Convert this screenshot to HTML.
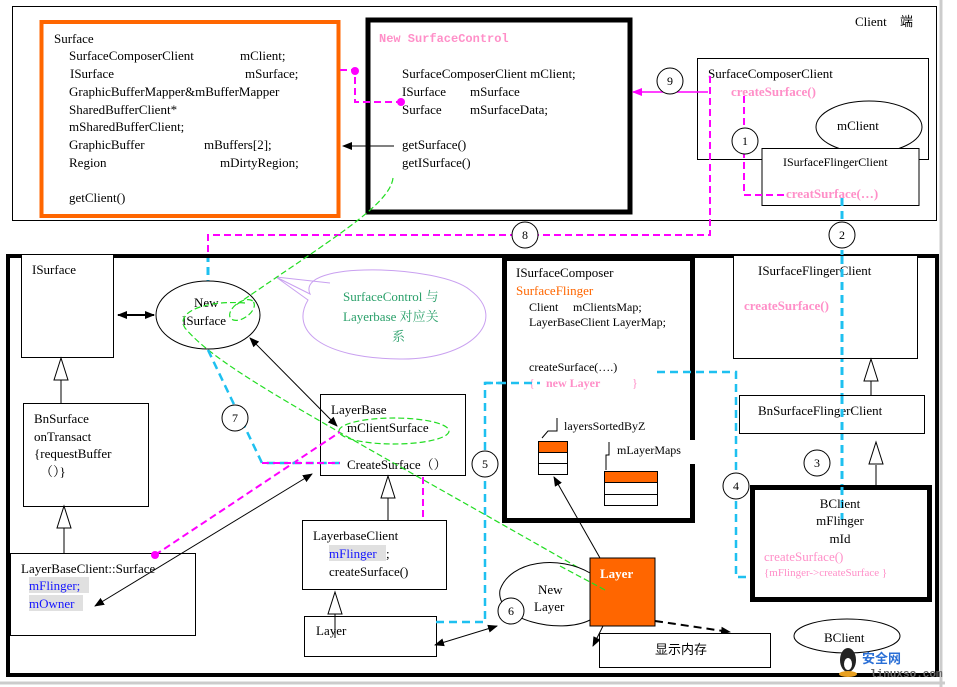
<!DOCTYPE html>
<html><head><meta charset="utf-8"><style>
html,body{margin:0;padding:0;background:#fff;}
svg{display:block;}
text{font-family:"Liberation Serif","Noto Serif CJK SC",serif;font-size:13px;fill:#000;}
.pk{fill:#ff8fc8;font-weight:bold;}
.bl{fill:#1515ff;}
.n{font-size:12px;text-anchor:middle;}
</style></head><body>
<svg width="957" height="687" viewBox="0 0 957 687" xmlns="http://www.w3.org/2000/svg">
<defs>
<marker id="ah" markerWidth="10" markerHeight="10" refX="9" refY="5" orient="auto" markerUnits="userSpaceOnUse"><path d="M0,1 L10,5 L0,9 z" fill="#000"/></marker>
<marker id="ahs" markerWidth="10" markerHeight="10" refX="1" refY="5" orient="auto" markerUnits="userSpaceOnUse"><path d="M10,1 L0,5 L10,9 z" fill="#000"/></marker>
<marker id="ahm" markerWidth="10" markerHeight="10" refX="9" refY="5" orient="auto" markerUnits="userSpaceOnUse"><path d="M0,1 L10,5 L0,9 z" fill="#f0f"/></marker>
</defs>
<rect x="0" y="0" width="957" height="687" fill="#fff"/>
<line x1="941" y1="0" x2="941" y2="687" stroke="#ccc" stroke-width="3"/>
<line x1="0" y1="683" x2="945" y2="683" stroke="#ccc" stroke-width="3"/>

<!-- top client box -->
<rect x="12.5" y="6.5" width="924" height="214" fill="none" stroke="#000" stroke-width="1"/>
<text x="855" y="26">Client</text><text x="900" y="26" style="font-family:'Noto Sans CJK SC',sans-serif">端</text>

<rect x="41.5" y="22" width="297" height="194" fill="#fff" stroke="#ff6600" stroke-width="4"/>
<text x="54" y="43">Surface</text>
<text x="69" y="60">SurfaceComposerClient</text><text x="240" y="60">mClient;</text>
<text x="70" y="78">ISurface</text><text x="245" y="78">mSurface;</text>
<text x="69" y="96">GraphicBufferMapper&amp;mBufferMapper</text>
<text x="69" y="114">SharedBufferClient*</text>
<text x="69" y="131">mSharedBufferClient;</text>
<text x="69" y="149">GraphicBuffer</text><text x="204" y="149">mBuffers[2];</text>
<text x="69" y="167">Region</text><text x="220" y="167">mDirtyRegion;</text>
<text x="69" y="202">getClient()</text>

<rect x="368" y="20" width="262" height="192" fill="#fff" stroke="#000" stroke-width="5"/>
<text x="379" y="42" style="font-family:'Liberation Mono',monospace;font-size:12px;fill:#ff8fc8;font-weight:bold">New SurfaceControl</text>
<text x="402" y="78">SurfaceComposerClient mClient;</text>
<text x="402" y="96">ISurface</text><text x="470" y="96">mSurface</text>
<text x="402" y="114">Surface</text><text x="470" y="114">mSurfaceData;</text>
<text x="402" y="149">getSurface()</text>
<text x="402" y="167">getISurface()</text>
<line x1="394" y1="146" x2="343" y2="146" stroke="#000" marker-end="url(#ah)"/>

<path d="M340,70 H355 V102 H401" fill="none" stroke="#f0f" stroke-width="2" stroke-dasharray="7,4"/>
<circle cx="355" cy="71" r="4" fill="#f0f"/><circle cx="401" cy="102" r="4" fill="#f0f"/>

<rect x="697.5" y="58.5" width="231" height="101" fill="#fff" stroke="#000"/>
<text x="708" y="78">SurfaceComposerClient</text>
<text x="731" y="96" class="pk">createSurface()</text>
<ellipse cx="869" cy="127" rx="53" ry="26" fill="#fff" stroke="#000"/>
<text x="837" y="130">mClient</text>
<rect x="762" y="148.5" width="157" height="57" fill="#fff" stroke="#000"/>
<text x="783" y="166" style="font-size:12px">ISurfaceFlingerClient</text>
<text x="786" y="198" class="pk">creatSurface(…)</text>

<line x1="708" y1="92" x2="633" y2="92" stroke="#f0f" stroke-width="1.5" marker-end="url(#ahm)"/>
<path d="M744,96 V195 H786" fill="none" stroke="#f0f" stroke-width="2" stroke-dasharray="7,4"/>
<path d="M710,76 V235 H208 V254" fill="none" stroke="#f0f" stroke-width="2" stroke-dasharray="7,4"/>
<line x1="208" y1="254" x2="208" y2="282" stroke="#1ec0f0" stroke-width="3" stroke-dasharray="8,5"/>
<circle cx="670" cy="81" r="13" fill="#fff" stroke="#000"/><text x="670" y="85" class="n">9</text>
<circle cx="745" cy="141" r="13" fill="#fff" stroke="#000"/><text x="745" y="145" class="n">1</text>

<!-- bottom server box -->
<rect x="8" y="256" width="929" height="419" fill="none" stroke="#000" stroke-width="4"/>

<line x1="842" y1="198" x2="842" y2="487" stroke="#1ec0f0" stroke-width="3" stroke-dasharray="8,5"/>
<circle cx="525" cy="235" r="13" fill="#fff" stroke="#000"/><text x="525" y="239" class="n">8</text>
<circle cx="842" cy="235" r="13" fill="#fff" stroke="#000"/><text x="842" y="239" class="n">2</text>

<!-- left column -->
<rect x="21.5" y="254.5" width="92" height="103" fill="#fff" stroke="#000"/>
<text x="32" y="274">ISurface</text>
<rect x="23.5" y="403.5" width="125" height="103" fill="#fff" stroke="#000"/>
<text x="34" y="423">BnSurface</text>
<text x="34" y="441">onTransact</text>
<text x="34" y="458">{requestBuffer</text>
<text x="40" y="476">（）}</text>
<rect x="10.5" y="553.5" width="185" height="82" fill="#fff" stroke="#000"/>
<text x="21" y="573">LayerBaseClient::Surface</text>
<rect x="29" y="577" width="60" height="16" fill="#e0e0e0"/>
<rect x="29" y="595" width="54" height="16" fill="#e0e0e0"/>
<text x="29" y="590" class="bl">mFlinger;</text>
<text x="29" y="608" class="bl">mOwner</text>
<line x1="61" y1="380" x2="61" y2="403" stroke="#000"/><path d="M61,358 L54,380 L68,380 z" fill="#fff" stroke="#000"/>
<line x1="64" y1="528" x2="64" y2="553" stroke="#000"/><path d="M64,506 L57,528 L71,528 z" fill="#fff" stroke="#000"/>

<line x1="118" y1="315" x2="154" y2="315" stroke="#000" stroke-width="2" marker-end="url(#ah)" marker-start="url(#ahs)"/>
<ellipse cx="208" cy="315" rx="52" ry="34" fill="#fff" stroke="#000"/>
<text x="194" y="307">New</text><text x="182" y="325">ISurface</text>

<!-- speech bubble -->
<path d="M276,277 L310,294 C295,260 440,265 470,290 C510,320 470,360 400,359 C320,358 290,330 308,300 Z" fill="#fff" stroke="#c9a0f0"/>
<path d="M276,277 L330,283" stroke="#c9a0f0"/>
<text x="343" y="301" style="fill:#2aa06a">SurfaceControl 与</text>
<text x="343" y="321" style="fill:#2aa06a">Layerbase 对应关</text>
<text x="392" y="341" style="fill:#2aa06a">系</text>

<!-- LayerBase -->
<rect x="320.5" y="394.5" width="145" height="81" fill="#fff" stroke="#000"/>
<text x="331" y="414">LayerBase</text>
<text x="347" y="432">mClientSurface</text>
<text x="347" y="469">CreateSurface（）</text>

<!-- green dashed -->
<g fill="none" stroke="#22dd22" stroke-width="1.2" stroke-dasharray="6,3">
<path d="M393,178 C390,205 330,240 236,305"/>
<ellipse cx="242" cy="310" rx="14" ry="8" transform="rotate(-35 242 310)"/>
<path d="M245,303 C205,300 175,312 185,328 C220,370 320,420 600,580"/>
<ellipse cx="394" cy="431" rx="55" ry="13"/>
</g>

<line x1="250" y1="338" x2="337" y2="426" stroke="#000" marker-end="url(#ah)" marker-start="url(#ahs)"/>
<line x1="95" y1="606" x2="312" y2="474" stroke="#000" marker-end="url(#ah)" marker-start="url(#ahs)"/>
<path d="M155,555 L340,432" fill="none" stroke="#f0f" stroke-width="2" stroke-dasharray="7,4"/>
<circle cx="155" cy="555" r="4" fill="#f0f"/>
<path d="M208,350 L262,463 H340" fill="none" stroke="#1ec0f0" stroke-width="2.5" stroke-dasharray="8,5"/>
<path d="M262,463 H340" fill="none" stroke="#f0f" stroke-width="2" stroke-dasharray="7,4"/>
<path d="M423,477 V572 H420" fill="none" stroke="#f0f" stroke-width="2" stroke-dasharray="7,4"/>
<circle cx="235" cy="418" r="13" fill="#fff" stroke="#000"/><text x="235" y="422" class="n">7</text>

<rect x="302.5" y="520.5" width="144" height="69" fill="#fff" stroke="#000"/>
<text x="313" y="540">LayerbaseClient</text>
<rect x="329" y="545" width="57" height="16" fill="#e0e0e0"/>
<text x="329" y="558" class="bl">mFlinger</text><text x="386" y="558">;</text>
<text x="329" y="576">createSurface()</text>
<line x1="388" y1="498" x2="388" y2="520" stroke="#000"/><path d="M388,476 L381,498 L395,498 z" fill="#fff" stroke="#000"/>
<rect x="304.5" y="616.5" width="132" height="40" fill="#fff" stroke="#000"/>
<text x="316" y="635">Layer</text>
<line x1="335" y1="612" x2="335" y2="638" stroke="#000"/><path d="M335,592 L328,614 L342,614 z" fill="#fff" stroke="#000"/>

<path d="M436,622 H485 V383 H503" fill="none" stroke="#1ec0f0" stroke-width="2.5" stroke-dasharray="8,5"/>
<circle cx="485" cy="464" r="13" fill="#fff" stroke="#000"/><text x="485" y="468" class="n">5</text>
<line x1="435" y1="645" x2="497" y2="626" stroke="#000" marker-end="url(#ah)" marker-start="url(#ahs)"/>

<!-- ISurfaceComposer -->
<rect x="504.5" y="258.5" width="188" height="262" fill="#fff" stroke="#000" stroke-width="5"/>
<rect x="690" y="440" width="8" height="24" fill="#fff"/>
<text x="516" y="277">ISurfaceComposer</text>
<text x="516" y="295" style="fill:#ff6600">SurfaceFlinger</text>
<text x="529" y="311" style="font-size:12px">Client</text><text x="573" y="311" style="font-size:12px">mClientsMap;</text>
<text x="529" y="326" style="font-size:12px">LayerBaseClient LayerMap;</text>
<text x="529" y="371" style="font-size:12px">createSurface(….)</text>
<text x="529" y="387" style="fill:#ff8fc8;font-size:12px">{</text><text x="546" y="387" class="pk" style="font-size:12px">new Layer</text><text x="632" y="387" style="fill:#ff8fc8;font-size:12px">}</text>
<path d="M485,383 H540" fill="none" stroke="#1ec0f0" stroke-width="2.5" stroke-dasharray="8,5"/>
<path d="M657,372 H736 V577 H766" fill="none" stroke="#1ec0f0" stroke-width="2.5" stroke-dasharray="8,5"/>
<path d="M542,438 L548,431 H557 V418" fill="none" stroke="#000"/>
<text x="564" y="430" style="font-size:12px">layersSortedByZ</text>
<rect x="538.5" y="441.5" width="29" height="33" fill="#fff" stroke="#000"/>
<rect x="538.5" y="441.5" width="29" height="11" fill="#ff6600" stroke="#000"/>
<line x1="538" y1="463.5" x2="567" y2="463.5" stroke="#000"/>
<path d="M606,470 V455 H609 V442" fill="none" stroke="#000"/>
<text x="617" y="454" style="font-size:12px">mLayerMaps</text>
<rect x="604.5" y="471.5" width="53" height="34" fill="#fff" stroke="#000"/>
<rect x="604.5" y="471.5" width="53" height="11" fill="#ff6600" stroke="#000"/>
<line x1="604" y1="494.5" x2="657" y2="494.5" stroke="#000"/>

<!-- right column -->
<rect x="733.5" y="255.5" width="184" height="103" fill="#fff" stroke="#000"/>
<text x="758" y="275">ISurfaceFlingerClient</text>
<text x="744" y="310" class="pk">createSurface()</text>
<line x1="842" y1="256" x2="842" y2="358" stroke="#1ec0f0" stroke-width="3" stroke-dasharray="8,5"/>
<rect x="739.5" y="395.5" width="185" height="38" fill="#fff" stroke="#000"/>
<text x="758" y="415">BnSurfaceFlingerClient</text>
<line x1="842" y1="396" x2="842" y2="433" stroke="#1ec0f0" stroke-width="3" stroke-dasharray="8,5"/>
<line x1="871" y1="380" x2="871" y2="395" stroke="#000"/><path d="M871,359 L864,381 L878,381 z" fill="#fff" stroke="#000"/>
<line x1="876" y1="465" x2="876" y2="487" stroke="#000"/><path d="M876,442 L869,464 L883,464 z" fill="#fff" stroke="#000"/>
<rect x="752.5" y="487.5" width="177" height="112" fill="#fff" stroke="#000" stroke-width="5"/>
<line x1="842" y1="487" x2="842" y2="520" stroke="#1ec0f0" stroke-width="3" stroke-dasharray="8,5"/>
<text x="840" y="508" style="text-anchor:middle">BClient</text>
<text x="840" y="525" style="text-anchor:middle">mFlinger</text>
<text x="840" y="543" style="text-anchor:middle">mId</text>
<text x="764" y="561" style="fill:#ff8fc8">createSurface()</text>
<text x="764" y="576" style="fill:#ff8fc8;font-size:11px">{mFlinger-&gt;createSurface }</text>
<circle cx="817" cy="463" r="13" fill="#fff" stroke="#000"/><text x="817" y="467" class="n">3</text>
<circle cx="736" cy="486" r="13" fill="#fff" stroke="#000"/><text x="736" y="490" class="n">4</text>

<!-- New Layer -->
<path d="M590,573 C560,555 510,560 500,590 C495,620 560,635 590,620" fill="#fff" stroke="#000"/>
<text x="538" y="594">New</text><text x="534" y="611">Layer</text>
<circle cx="511" cy="611" r="13" fill="#fff" stroke="#000"/><text x="511" y="615" class="n">6</text>
<rect x="590" y="558" width="65" height="68" fill="#ff6600" stroke="#000"/>
<text x="600" y="578" style="fill:#fff;font-weight:bold">Layer</text>
<line x1="560" y1="566" x2="605" y2="590" stroke="#22dd22" stroke-width="1.2" stroke-dasharray="6,3"/>
<line x1="600" y1="558" x2="554" y2="477" stroke="#000" marker-end="url(#ah)"/>
<line x1="655" y1="621" x2="730" y2="632" stroke="#000" stroke-width="2" stroke-dasharray="8,5" marker-end="url(#ah)"/>
<line x1="603" y1="626" x2="593" y2="646" stroke="#000" marker-end="url(#ah)"/>
<rect x="599.5" y="633.5" width="171" height="34" fill="#fff" stroke="#000"/>
<text x="655" y="654" style="font-family:'Noto Sans CJK SC',sans-serif;font-size:13px">显示内存</text>

<ellipse cx="847" cy="636" rx="53" ry="17" fill="#fff" stroke="#000"/>
<text x="824" y="642">BClient</text>
<text x="862" y="663" style="font-family:'Noto Sans CJK SC',sans-serif;font-size:13px;fill:#2a6fd6;font-weight:bold">安全网</text>
<text x="870" y="677" style="font-family:'Liberation Mono',monospace;font-size:11px;font-weight:bold;fill:#666">linuxso.com</text>
<ellipse cx="848" cy="660" rx="8" ry="12" fill="#222"/>
<ellipse cx="848" cy="664" rx="4" ry="6" fill="#fff"/>
<ellipse cx="848" cy="674" rx="9" ry="3" fill="#e8a020"/>
</svg>
</body></html>
